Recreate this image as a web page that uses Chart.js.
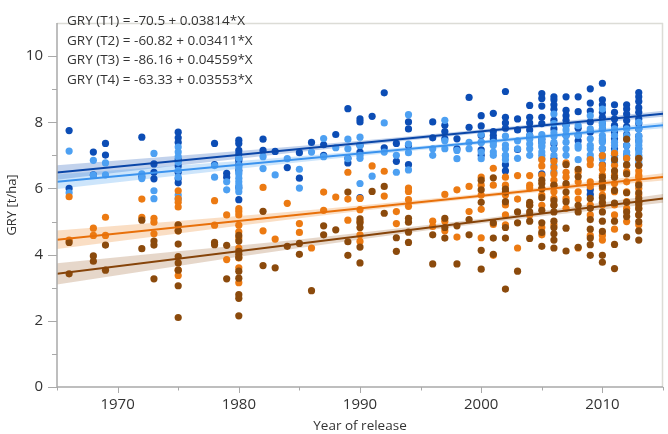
<!DOCTYPE html>
<html>
<head>
<meta charset="utf-8">
<script src="https://cdn.jsdelivr.net/npm/chart.js@4/dist/chart.umd.min.js"></script>
<style>
html,body{margin:0;padding:0;background:#fff;}
#wrap{width:668px;height:434px;}
</style>
</head>
<body>
<div id="wrap"><canvas id="c" width="668" height="434"></canvas></div>
<script>
// ---- DATA ----
const xTickLabels = [1970, 1980, 1990, 2000, 2010];
const yTickLabels = [0, 2, 4, 6, 8, 10];
const equations = [
  "GRY (T1) = -70.5 + 0.03814*X",
  "GRY (T2) = -60.82 + 0.03411*X",
  "GRY (T3) = -86.16 + 0.04559*X",
  "GRY (T4) = -63.33 + 0.03553*X"
];
// scatter values per year of release (T1 orange, T2 light blue, T3 brown, T4 dark blue)
const T1 = {1966:[5.75,4.44],1968:[4.8,4.58],1969:[5.13,4.58],1972:[5.68,5.13],1973:[5.1,4.98,4.63],
1975:[5.93,5.69,5.58,5.44,4.89,4.72,3.53,3.37],1978:[5.63,4.89],1979:[5.2,3.85],
1980:[5.39,5.3,5.2,4.89,4.69,4.5,4.2,3.9,3.6,3.15],1982:[6.03,4.72],1983:[4.47],1984:[5.55],1985:[4.94,4.67],
1986:[4.2],1987:[5.89,5.34],1988:[5.74],1989:[6.49,5.68,5.04],1990:[5.7,5.36,5.0,4.6,4.4],1991:[6.68],
1992:[6.52,5.77],1993:[5.3,4.94],1994:[6.01,5.91,5.66,5.46],1996:[5.01,4.85],1997:[5.82,5.01,4.72],
1998:[5.96,4.53],1999:[6.06,5.3],2000:[6.34,6.1,5.8,5.37,4.51],2001:[6.61,6.1,4.91,3.98],
2002:[6.34,6.1,5.8,5.5,5.2,4.9],2003:[6.39,5.68,4.2],2004:[6.39,6.1,6.01,5.5,5.2],
2005:[6.87,6.68,6.4,6.0,5.8,5.49,4.82,4.6],2006:[6.82,6.63,6.44,6.25,6.1,5.9,5.7,5.5,4.9],
2007:[6.77,6.49,6.34,6.1,5.7,5.4],2008:[6.5,6.2,5.9,5.68,4.2],2009:[6.87,6.72,6.2,6.06,5.5,5.2,4.58],
2010:[6.99,6.7,6.58,6.4,6.2,6.0,5.8,5.5,4.58,4.44],2011:[7.06,6.7,6.4,6.15,5.9,5.5,5.2,4.77],
2012:[6.91,6.7,6.5,6.2,5.9,5.6,5.4,5.0],2013:[6.9,6.7,6.53,6.4,6.34,6.15,6.0,5.8,5.6,5.4,5.2,4.9]};
const T2 = {1966:[7.13,5.87],1968:[6.85,6.4],1969:[6.77,6.41],1972:[6.44,6.3],1973:[7.06,5.93,5.69],
1975:[7.25,7.1,6.96,6.79,6.55,6.34,5.8,5.68],1978:[6.69,6.34],1979:[6.2,5.96],
1980:[6.91,6.7,6.63,6.5,6.44,6.31,6.2,6.1,6.0,5.9],1982:[6.96,6.6],1983:[6.41],1984:[6.9],1985:[6.58,6.01],
1986:[7.1],1987:[7.51,6.96],1988:[7.23],1989:[7.49,7.2,6.9],1990:[7.55,7.3,7.0,6.91,6.15],1991:[6.37],
1992:[7.98,7.1],1993:[7.0,6.49],1994:[8.23,7.34,7.08,6.56],1996:[7.2,7.0],1997:[8.06,7.44,7.2],
1998:[7.15,6.9],1999:[7.39,7.2],2000:[7.63,7.4,7.39,7.1,6.9],2001:[7.39,7.3,7.1,7.0],
2002:[7.58,7.31,7.2,7.0,6.99,6.87],2003:[7.44,7.2,6.91],2004:[7.6,7.49,7.34,7.2,7.0],
2005:[7.63,7.5,7.4,7.3,7.25,7.1,7.0,6.9],2006:[8.25,7.96,7.68,7.58,7.39,7.2,7.0,6.7,6.5],
2007:[7.9,7.77,7.6,7.4,7.2,7.0],2008:[7.9,7.6,7.3,7.22,6.87],2009:[8.2,7.8,7.5,7.3,7.2,7.01,6.9],
2010:[8.4,8.0,7.9,7.8,7.6,7.5,7.4,7.2,7.0,6.9],2011:[7.8,7.6,7.4,7.3,7.1,7.0,6.9,6.8],
2012:[7.8,7.6,7.5,7.3,7.1,7.0,6.9,6.7],2013:[8.0,7.8,7.6,7.5,7.4,7.3,7.2,7.1,7.0,6.96,6.9,6.8]};
const T3 = {1966:[4.37,3.42],1968:[3.96,3.8],1969:[4.29,3.53],1972:[5.04,4.18],1973:[4.41,4.29,3.27],
1975:[4.9,4.72,4.32,3.94,3.75,3.53,3.06,2.1],1978:[4.37,4.3],1979:[4.28,3.27],
1980:[4.58,4.41,4.1,4.01,3.91,3.5,3.29,2.79,2.68,2.15],1982:[5.31,3.67],1983:[3.6],1984:[4.25],1985:[4.34,4.01],
1986:[2.91],1987:[4.87,4.6],1988:[4.75],1989:[5.89,4.39,3.98],1990:[5.08,4.96,4.82,4.23,3.75],1991:[5.91],
1992:[6.06,5.25],1993:[4.51,4.1],1994:[5.1,4.98,4.68,4.37],1996:[4.6,3.72],1997:[5.1,4.82,4.5],
1998:[4.87,3.72],1999:[5.06,4.6],2000:[6.25,5.96,5.58,4.13,3.56],2001:[6.32,4.96,4.5,4.01],
2002:[5.98,5.89,5.6,4.82,4.5,2.96],2003:[5.29,4.96,3.5],2004:[5.58,5.49,5.29,5.01,4.49],
2005:[6.25,6.15,5.99,5.72,5.34,4.96,4.67,4.25],2006:[6.1,5.63,5.49,5.29,5.01,4.82,4.63,4.44,4.2],
2007:[6.72,6.15,5.89,5.6,4.8,4.11],2008:[6.58,6.36,5.49,5.29,4.22],2009:[5.7,5.4,5.06,4.77,4.5,4.3,3.98],
2010:[6.34,6.2,6.06,5.72,5.58,5.29,5.01,4.7,3.98,3.77],2011:[6.87,6.53,6.34,5.94,5.56,5.01,4.31,3.58],
2012:[7.49,6.72,6.44,5.87,5.58,5.29,5.15,4.53],2013:[6.91,6.7,6.1,5.87,5.7,5.58,5.5,5.39,5.2,5.0,4.72,4.44]};
const T4 = {1966:[7.75,6.0],1968:[7.1,6.41],1969:[7.36,7.01],1972:[7.55,6.35],1973:[6.74,6.49,6.29],
1975:[7.7,7.53,7.39,6.87,6.68,6.49,6.29,6.17],1978:[7.36,6.72],1979:[6.46,6.34],
1980:[7.46,7.36,7.15,7.04,6.9,6.84,6.72,6.55,6.03,5.66],1982:[7.49,7.15],1983:[7.12],1984:[6.63],1985:[7.08,6.31],
1986:[7.39],1987:[7.32,7.0],1988:[7.63],1989:[8.41,6.91,6.77],1990:[8.1,8.01,7.3,7.1,5.72],1991:[8.18],
1992:[8.89,7.23],1993:[7.36,6.82],1994:[8.01,7.8,7.3,6.72],1996:[8.01,7.53],1997:[7.91,7.72,7.5],
1998:[7.5,7.2],1999:[8.75,7.85],2000:[8.2,7.89,7.6,7.17,7.0],2001:[8.27,7.72,7.6,7.5],
2002:[8.93,8.15,7.98,7.82,6.72,6.53],2003:[8.1,7.77,7.18],2004:[8.51,8.15,7.98,7.77,7.6],
2005:[8.87,8.72,8.49,8.15,7.96,7.49,7.39,6.44],2006:[8.77,8.68,8.53,8.39,8.06,7.8,7.34,7.2,6.9],
2007:[8.77,8.36,8.2,8.06,7.91,7.6],2008:[8.77,8.32,7.82,7.6,7.44],2009:[9.01,8.58,8.34,8.01,7.7,5.96,5.82],
2010:[9.18,8.68,8.53,8.3,8.15,7.96,7.8,7.44,7.2,6.72],2011:[8.53,8.3,8.1,7.91,7.68,7.5,7.2,7.0],
2012:[8.53,8.4,8.25,8.05,7.87,7.63,7.3,7.0],2013:[8.9,8.77,8.63,8.44,8.3,8.1,7.96,7.8,7.58,7.44,7.2,6.72]};
// fitted lines (end points) and confidence bands
const lineX = [1965, 2015];
const fitT1 = [4.45, 6.35];
const fitT2 = [6.20, 7.91];
const fitT3 = [3.42, 5.70];
const fitT4 = [6.48, 8.26];
const bandX = [1965, 1975, 1985, 1995, 2005, 2015];
const bandT1Hi = [4.73, 5.02, 5.32, 5.66, 6.04, 6.46];
const bandT1Lo = [4.17, 4.64, 5.10, 5.52, 5.90, 6.24];
const bandT2Hi = [6.42, 6.69, 6.97, 7.28, 7.63, 8.00];
const bandT2Lo = [5.98, 6.39, 6.79, 7.16, 7.51, 7.82];
const bandT3Hi = [3.74, 4.10, 4.46, 4.87, 5.32, 5.83];
const bandT3Lo = [3.10, 3.66, 4.20, 4.71, 5.16, 5.57];
const bandT4Hi = [6.70, 6.99, 7.28, 7.61, 7.96, 8.35];
const bandT4Lo = [6.26, 6.69, 7.10, 7.49, 7.84, 8.17];

// ---- styles ----
const COL = {T1:'#ec7a12', T2:'#4da0f2', T3:'#8b4a0c', T4:'#0c4db5'};
const LINECOL = {T1:'#e8700a', T2:'#3b93ee', T3:'#86440a', T4:'#0a46a8'};
const BANDCOL = {T1:'rgba(236,122,18,0.25)', T2:'rgba(77,160,242,0.28)', T3:'rgba(139,74,12,0.22)', T4:'rgba(12,77,181,0.25)'};
const FONT = "'Open Sans', 'DejaVu Sans', sans-serif";

function pts(obj){ const out=[]; for (const k of Object.keys(obj)) for (const v of obj[k]) out.push({x:+k, y:v}); return out; }
function xy(xs, ys){ return xs.map((x,i)=>({x:x, y:ys[i]})); }

const datasets = [];
function addBand(key, hi, lo){
  datasets.push({type:'line', data:xy(bandX,hi), borderWidth:0, pointRadius:0, fill:'+1', backgroundColor:BANDCOL[key], borderColor:'rgba(0,0,0,0)', cubicInterpolationMode:'monotone', order:5});
  datasets.push({type:'line', data:xy(bandX,lo), borderWidth:0, pointRadius:0, fill:false, borderColor:'rgba(0,0,0,0)', cubicInterpolationMode:'monotone', order:5});
}
addBand('T3', bandT3Hi, bandT3Lo);
addBand('T1', bandT1Hi, bandT1Lo);
addBand('T2', bandT2Hi, bandT2Lo);
addBand('T4', bandT4Hi, bandT4Lo);
[['T3',T3],['T1',T1],['T2',T2],['T4',T4]].forEach(([k,o])=>{
  datasets.push({type:'scatter', data:pts(o), backgroundColor:COL[k], borderWidth:0, pointRadius:3.6, pointHoverRadius:3.6, order:3});
});
[['T3',fitT3],['T1',fitT1],['T2',fitT2],['T4',fitT4]].forEach(([k,v])=>{
  datasets.push({type:'line', data:xy(lineX,v), borderColor:LINECOL[k], borderWidth:2, pointRadius:0, fill:false, order:1});
});

const framePlugin = {
  id:'frame',
  beforeDatasetsDraw(chart){
    const {ctx, chartArea:a} = chart;
    ctx.save();
    ctx.strokeStyle = '#dcdcd6'; ctx.lineWidth = 1.5;
    ctx.beginPath(); ctx.moveTo(a.left, a.top+0.5); ctx.lineTo(a.right, a.top+0.5); ctx.stroke();
    ctx.beginPath(); ctx.moveTo(a.right-0.5, a.top); ctx.lineTo(a.right-0.5, a.bottom); ctx.stroke();
    ctx.restore();
  },
  afterDraw(chart){
    const {ctx, chartArea:a, scales} = chart;
    ctx.save();
    ctx.strokeStyle = '#a9a9a9'; ctx.lineWidth = 1.5;
    ctx.beginPath(); ctx.moveTo(a.left, a.top); ctx.lineTo(a.left, a.bottom); ctx.lineTo(a.right, a.bottom); ctx.stroke();
    ctx.lineWidth = 1;
    const ys = scales.y, xs = scales.x;
    for (let v=0; v<=10; v++){
      const p = Math.round(ys.getPixelForValue(v))+0.5;
      const len = v%2===0 ? 9 : 5;
      ctx.beginPath(); ctx.moveTo(a.left-len, p); ctx.lineTo(a.left, p); ctx.stroke();
    }
    for (let yr=1965; yr<=2015; yr+=5){
      const p = Math.round(xs.getPixelForValue(yr))+0.5;
      const len = yr%10===0 ? 6 : 3.5;
      ctx.beginPath(); ctx.moveTo(p, a.bottom); ctx.lineTo(p, a.bottom+len); ctx.stroke();
    }
    ctx.fillStyle = '#333';
    ctx.font = "13.5px " + FONT;
    ctx.textBaseline = 'alphabetic';
    equations.forEach((t,i)=>{ ctx.fillText(t, a.left+10, 25 + i*19.5); });
    ctx.restore();
  }
};

new Chart(document.getElementById('c'), {
  type:'scatter',
  data:{datasets},
  options:{
    responsive:false, animation:false,
    layout:{padding:{top:3, right:5, left:0, bottom:0}},
    plugins:{legend:{display:false}, tooltip:{enabled:false}},
    scales:{
      x:{type:'linear', min:1965, max:2015,
        afterFit(s){ s.height = 47; },
        afterBuildTicks(s){ s.ticks = xTickLabels.map(v=>({value:v})); },
        grid:{display:false, drawTicks:false}, border:{display:false},
        ticks:{font:{size:15, family:FONT}, color:'#333', padding:9, maxRotation:0, callback:v=>String(v)},
        title:{display:true, text:'Year of release', font:{size:13.5, family:FONT}, color:'#333', padding:{top:1, bottom:0}}
      },
      y:{type:'linear', min:0, max:11,
        afterFit(s){ s.width = 57; },
        afterBuildTicks(s){ s.ticks = yTickLabels.map(v=>({value:v})); },
        grid:{display:false, drawTicks:false}, border:{display:false},
        ticks:{font:{size:15, family:FONT}, color:'#333', padding:14},
        title:{display:true, text:'GRY [t/ha]', font:{size:13, family:FONT}, color:'#333', padding:{top:4, bottom:0}}
      }
    }
  },
  plugins:[framePlugin]
});
</script>
</body>
</html>
